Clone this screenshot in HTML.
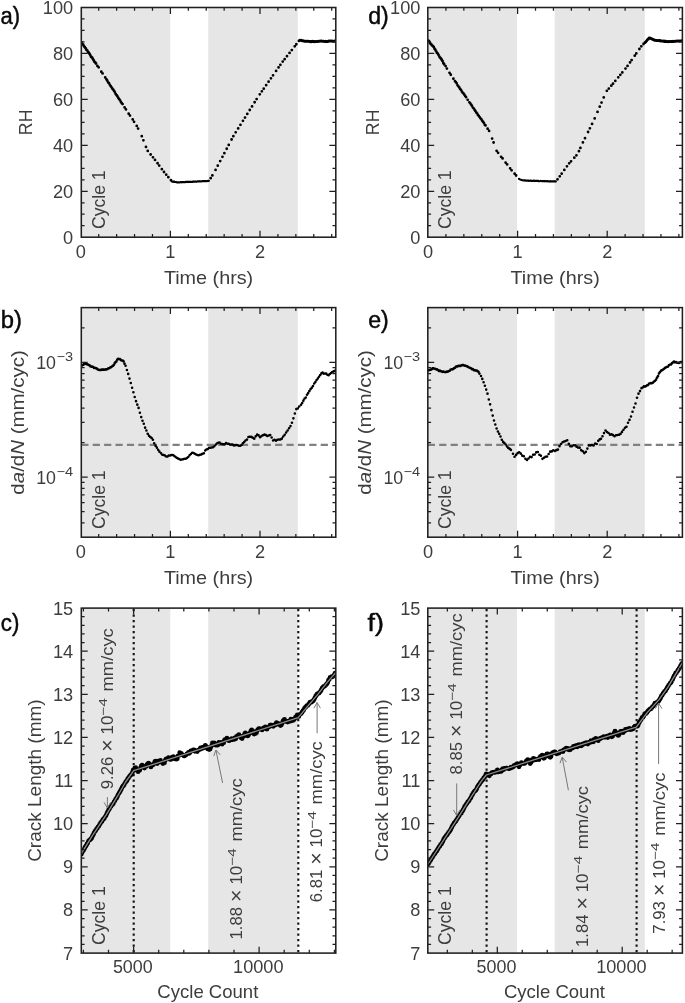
<!DOCTYPE html>
<html lang="en"><head><meta charset="utf-8"><title>Figure</title>
<style>html,body{margin:0;padding:0;background:#fff}svg{display:block;will-change:transform}text{font-family:"Liberation Sans",sans-serif}</style>
</head><body>
<svg width="685" height="1003" viewBox="0 0 685 1003">
<rect width="685" height="1003" fill="#fff"/>
<defs>
<clipPath id="ca"><rect x="81.3" y="7.5" width="254.5" height="229.7"/></clipPath>
<clipPath id="cd"><rect x="427.8" y="7.5" width="254.6" height="229.7"/></clipPath>
<clipPath id="cb"><rect x="81.3" y="307.6" width="254.5" height="229.6"/></clipPath>
<clipPath id="ce"><rect x="427.8" y="307.6" width="254.6" height="229.6"/></clipPath>
<clipPath id="cc"><rect x="81.3" y="608.1" width="254.5" height="345"/></clipPath>
<clipPath id="cf"><rect x="427.8" y="608.1" width="254.6" height="345"/></clipPath>
</defs>
<rect x="81.3" y="7.5" width="89" height="229.7" fill="#e6e6e6"/>
<rect x="208.2" y="7.5" width="89.6" height="229.7" fill="#e6e6e6"/>
<path d="M80.8 41.44h0M81.6 42.45h0M82.4 44.06h0M83.2 44.7h0M84 46.27h0M84.8 47.28h0M85.6 48.16h0M86.4 49.73h0M87.2 50.47h0M88 51.98h0M88.8 52.82h0M89.6 54h0M90.4 55.46h0M91.2 56.98h0M92 57.51h0M92.8 58.76h0M93.6 60.28h0M94.4 61.73h0M95.2 62.56h0M96 63.56h0" stroke="#000" stroke-width="2.9" stroke-linecap="round" fill="none" clip-path="url(#ca)"/>
<path d="M97.4 65.96h0M98.7 67.29h0M101.3 71.77h0M102.6 73.44h0M105.2 77.38h0M106.5 79.38h0" stroke="#000" stroke-width="2.8" stroke-linecap="round" fill="none" clip-path="url(#ca)"/>
<path d="M107.3 80.69h0M108.15 82.41h0M109 83.22h0M109.85 84.85h0M110.7 86.22h0M111.55 87.32h0M112.4 88.77h0M113.25 89.7h0M114.1 91.01h0M114.95 92.45h0M115.8 94.14h0M116.65 95.25h0M117.5 96.48h0M118.35 98h0M119.2 99.17h0M120.05 100.33h0M120.9 102h0M121.75 103.21h0M122.6 104.12h0" stroke="#000" stroke-width="2.8" stroke-linecap="round" fill="none" clip-path="url(#ca)"/>
<path d="M124.6 107.38h0M125.95 109.39h0M128.65 113.66h0M130 115.61h0M132.7 119.41h0M134.05 121.86h0M136.75 125.96h0M138.1 128.61h0" stroke="#000" stroke-width="2.8" stroke-linecap="round" fill="none" clip-path="url(#ca)"/>
<path d="M141.76 136.13h0M143.39 140.35h0M145.97 146.96h0M147.76 150.94h0M150.63 154.49h0M152.96 157.37h0M155.01 159.9h0M157.56 163.27h0M159.23 165.56h0M161.86 169.15h0M163.99 171.99h0M166.22 174.63h0M168.34 177.15h0M170.96 180.26h0" stroke="#000" stroke-width="2.8" stroke-linecap="round" fill="none" clip-path="url(#ca)"/>
<path d="M172 181.59h0M172.8 181.6h0M173.6 181.75h0M174.4 181.73h0M175.2 181.97h0M176 182.07h0M176.8 182.24h0M177.6 182.32h0M178.4 182.32h0M179.2 182.35h0M180 182.37h0M180.8 182.2h0M181.6 182.25h0M182.4 182.15h0M183.2 182.1h0M184 182.05h0M184.8 182.15h0M185.6 181.98h0M186.4 181.97h0M187.2 181.96h0M188 182.01h0M188.8 181.82h0M189.6 181.85h0M190.4 181.83h0M191.2 181.86h0M192 181.81h0M192.8 181.77h0M193.6 181.62h0M194.4 181.61h0M195.2 181.55h0M196 181.62h0M196.8 181.6h0M197.6 181.39h0M198.4 181.36h0M199.2 181.33h0M200 181.29h0M200.8 181.3h0M201.6 181.28h0M202.4 181.18h0M203.2 181.09h0M204 181.13h0M204.8 181.08h0M205.6 181.08h0M206.4 181.12h0M207.2 181.03h0M208 180.95h0M208.8 180.93h0" stroke="#000" stroke-width="2.3" stroke-linecap="round" fill="none" clip-path="url(#ca)"/>
<path d="M210.68 178.18h0M212.38 175.41h0M215.56 169.91h0M217.77 165.72h0M220.19 161.12h0M222.45 156.84h0M224.37 153.19h0M226.71 148.76h0M228.74 144.9h0M231.6 139.48h0M233.36 136.14h0M235.7 132.33h0M238.17 128.4h0M240.45 124.78h0M242.96 120.8h0M245 117.55h0M247.28 113.94h0M249.76 110h0M252.04 106.38h0M254.63 102.26h0M256.63 99.1h0M259.8 94.3h0M261.87 91.33h0M263.74 88.66h0M266.17 85.17h0M268.6 81.69h0M270.94 78.32h0M273.03 75.33h0M276.09 70.95h0M278.56 67.4h0M280.37 64.81h0M282.71 61.61h0M284.65 59.15h0M286.99 56.17h0M289.56 52.9h0M291.81 50.03h0M294.71 46.35h0M296.37 44.23h0" stroke="#000" stroke-width="2.8" stroke-linecap="round" fill="none" clip-path="url(#ca)"/>
<path d="M299 40.65h0M299.8 40.26h0M300.6 40.29h0M301.4 40.34h0M302.2 40.78h0M303 40.76h0M303.8 41.07h0M304.6 41.35h0M305.4 41.34h0M306.2 41.31h0M307 41.15h0M307.8 41.26h0M308.6 41.21h0M309.4 41.57h0M310.2 41.5h0M311 41.63h0M311.8 41.39h0M312.6 41.32h0M313.4 41.6h0M314.2 41.67h0M315 41.59h0M315.8 41.55h0M316.6 41.54h0M317.4 41.48h0M318.2 41.21h0M319 41.34h0M319.8 41.24h0M320.6 41.06h0M321.4 41.05h0M322.2 41.16h0M323 41.13h0M323.8 41.33h0M324.6 41.45h0M325.4 41.18h0M326.2 41.41h0M327 41.42h0M327.8 41.38h0M328.6 41.07h0M329.4 40.99h0M330.2 40.97h0M331 40.94h0M331.8 40.93h0M332.6 41.13h0M333.4 41.25h0M334.2 41.2h0M335 41.01h0M335.8 41.08h0" stroke="#000" stroke-width="3" stroke-linecap="round" fill="none" clip-path="url(#ca)"/>
<path d="M170.4 7.5v6.4 M170.4 237.2v-6.4 M260 7.5v6.4 M260 237.2v-6.4 M98.72 7.5v3.3 M98.72 237.2v-3.3 M116.64 7.5v3.3 M116.64 237.2v-3.3 M134.56 7.5v3.3 M134.56 237.2v-3.3 M152.48 7.5v3.3 M152.48 237.2v-3.3 M188.32 7.5v3.3 M188.32 237.2v-3.3 M206.24 7.5v3.3 M206.24 237.2v-3.3 M224.16 7.5v3.3 M224.16 237.2v-3.3 M242.08 7.5v3.3 M242.08 237.2v-3.3 M277.92 7.5v3.3 M277.92 237.2v-3.3 M295.84 7.5v3.3 M295.84 237.2v-3.3 M313.76 7.5v3.3 M313.76 237.2v-3.3 M331.68 7.5v3.3 M331.68 237.2v-3.3" stroke="#1f1f1f" stroke-width="1.25" fill="none"/>
<path d="M81.3 191.26h6.4 M335.8 191.26h-6.4 M81.3 145.32h6.4 M335.8 145.32h-6.4 M81.3 99.38h6.4 M335.8 99.38h-6.4 M81.3 53.44h6.4 M335.8 53.44h-6.4 M81.3 225.71h3.3 M335.8 225.71h-3.3 M81.3 214.23h3.3 M335.8 214.23h-3.3 M81.3 202.75h3.3 M335.8 202.75h-3.3 M81.3 179.78h3.3 M335.8 179.78h-3.3 M81.3 168.29h3.3 M335.8 168.29h-3.3 M81.3 156.81h3.3 M335.8 156.81h-3.3 M81.3 133.84h3.3 M335.8 133.84h-3.3 M81.3 122.35h3.3 M335.8 122.35h-3.3 M81.3 110.87h3.3 M335.8 110.87h-3.3 M81.3 87.9h3.3 M335.8 87.9h-3.3 M81.3 76.41h3.3 M335.8 76.41h-3.3 M81.3 64.93h3.3 M335.8 64.93h-3.3 M81.3 41.96h3.3 M335.8 41.96h-3.3 M81.3 30.47h3.3 M335.8 30.47h-3.3 M81.3 18.99h3.3 M335.8 18.99h-3.3" stroke="#1f1f1f" stroke-width="1.25" fill="none"/>
<rect x="81.3" y="7.5" width="254.5" height="229.7" fill="none" stroke="#1f1f1f" stroke-width="1.55"/>
<text x="73.2" y="243.7" font-size="18.2" text-anchor="end" fill="#3d3d3d">0</text>
<text x="73.2" y="197.76" font-size="18.2" text-anchor="end" fill="#3d3d3d">20</text>
<text x="73.2" y="151.82" font-size="18.2" text-anchor="end" fill="#3d3d3d">40</text>
<text x="73.2" y="105.88" font-size="18.2" text-anchor="end" fill="#3d3d3d">60</text>
<text x="73.2" y="59.94" font-size="18.2" text-anchor="end" fill="#3d3d3d">80</text>
<text x="73.2" y="14" font-size="18.2" text-anchor="end" fill="#3d3d3d">100</text>
<text x="80.8" y="257.9" font-size="18.2" text-anchor="middle" fill="#3d3d3d">0</text>
<text x="170.4" y="257.9" font-size="18.2" text-anchor="middle" fill="#3d3d3d">1</text>
<text x="260" y="257.9" font-size="18.2" text-anchor="middle" fill="#3d3d3d">2</text>
<text x="208.55" y="283.5" font-size="18.2" text-anchor="middle" fill="#3d3d3d" textLength="89.3" lengthAdjust="spacingAndGlyphs">Time (hrs)</text>
<text x="32" y="122.35" font-size="18.2" text-anchor="middle" fill="#3d3d3d" transform="rotate(-90 32 122.35)" textLength="25.6" lengthAdjust="spacingAndGlyphs">RH</text>
<text x="105.4" y="229" font-size="18.2" text-anchor="start" fill="#3d3d3d" transform="rotate(-90 105.4 229)" textLength="58.6" lengthAdjust="spacingAndGlyphs">Cycle 1</text>
<text x="0.5" y="23.6" font-size="23.5" text-anchor="start" fill="#0a0a0a" textLength="19.6" lengthAdjust="spacingAndGlyphs" stroke="#0a0a0a" stroke-width="0.45">a)</text>
<rect x="427.8" y="7.5" width="89.2" height="229.7" fill="#e6e6e6"/>
<rect x="554.7" y="7.5" width="90.1" height="229.7" fill="#e6e6e6"/>
<path d="M428.1 40.67h0M428.9 40.98h0M429.7 42.45h0M430.5 43.63h0M431.3 44.47h0M432.1 45.39h0M432.9 46.1h0M433.7 46.95h0M434.5 48.78h0M435.3 49.66h0M436.1 51.36h0M436.9 52.8h0M437.7 53.56h0M438.5 54.85h0M439.3 56.62h0M440.1 57.7h0M440.9 58.49h0M441.7 59.73h0M442.5 61.03h0M443.3 62.99h0M444.1 64.19h0" stroke="#000" stroke-width="2.9" stroke-linecap="round" fill="none" clip-path="url(#cd)"/>
<path d="M445.6 66.1h0M446.9 68.6h0M449.5 72.86h0M450.8 74.75h0M453.4 78.73h0" stroke="#000" stroke-width="2.8" stroke-linecap="round" fill="none" clip-path="url(#cd)"/>
<path d="M455 81.24h0M455.85 82.15h0M456.7 83.3h0M457.55 85.31h0M458.4 86.3h0M459.25 87.45h0M460.1 89.02h0M460.95 89.86h0M461.8 91.46h0M462.65 92.66h0M463.5 93.42h0M464.35 94.69h0M465.2 95.97h0M466.05 97.17h0" stroke="#000" stroke-width="2.8" stroke-linecap="round" fill="none" clip-path="url(#cd)"/>
<path d="M467.7 99.8h0" stroke="#000" stroke-width="2.8" stroke-linecap="round" fill="none" clip-path="url(#cd)"/>
<path d="M469.4 102.35h0M470.25 103.32h0M471.1 104.68h0M471.95 105.68h0M472.8 107.53h0M473.65 108.32h0M474.5 109.63h0M475.35 110.97h0M476.2 112.45h0M477.05 113.3h0M477.9 114.93h0M478.75 115.83h0M479.6 117.08h0M480.45 118.31h0M481.3 119.13h0M482.15 120.7h0M483 121.73h0M483.85 122.82h0M484.7 124.69h0M485.55 125.42h0" stroke="#000" stroke-width="2.8" stroke-linecap="round" fill="none" clip-path="url(#cd)"/>
<path d="M487.6 128.63h0M489.1 130.96h0M492.1 138.54h0M493.6 142.5h0M496.6 150.81h0M498.1 152.8h0M501.1 156.86h0M502.6 158.41h0M505.6 162.61h0M507.1 164.39h0M510.1 168.3h0M511.6 170.36h0M514.6 173.72h0M516.1 175.52h0" stroke="#000" stroke-width="2.8" stroke-linecap="round" fill="none" clip-path="url(#cd)"/>
<path d="M519 178.93h0M519.8 179.37h0M520.6 179.61h0M521.4 179.97h0M522.2 180.22h0M523 180.3h0M523.8 180.41h0M524.6 180.43h0M525.4 180.52h0M526.2 180.59h0M527 180.71h0M527.8 180.69h0M528.6 180.75h0M529.4 180.78h0M530.2 180.67h0M531 180.75h0M531.8 180.86h0M532.6 180.86h0M533.4 180.74h0M534.2 180.76h0M535 180.85h0M535.8 180.8h0M536.6 180.86h0M537.4 180.85h0M538.2 181h0M539 181.04h0M539.8 181.09h0M540.6 180.97h0M541.4 181.1h0M542.2 181.12h0M543 181.04h0M543.8 181.21h0M544.6 181.25h0M545.4 181.12h0M546.2 181.3h0M547 181.21h0M547.8 181.25h0M548.6 181.38h0M549.4 181.37h0M550.2 181.26h0M551 181.34h0M551.8 181.38h0M552.6 181.37h0M553.4 181.36h0M554.2 181.41h0M555 181.52h0M555.8 181.4h0" stroke="#000" stroke-width="2.3" stroke-linecap="round" fill="none" clip-path="url(#cd)"/>
<path d="M557.55 179.31h0M559.77 176.32h0M561.68 173.65h0M564.32 169.95h0M566.94 166.28h0M569.16 163.37h0M571.04 161.28h0M574.3 157.68h0M576.43 155.31h0M578.94 151.15h0M580.4 147.91h0M582.9 142.41h0M585 138.18h0M588.07 132.01h0M589.89 128.36h0M592.08 123.96h0M594.7 118.47h0M597.52 111.91h0M599.76 106.71h0M601.53 102.59h0M603.75 97.43h0M606.85 90.86h0M608.83 88.55h0M611.29 85.69h0M613.01 83.66h0M615.31 80.89h0M618.27 77.31h0M620.34 74.81h0M622.31 72.42h0M625.51 68.56h0M627.53 65.95h0M630.03 62.39h0M631.64 60.09h0M634.75 55.66h0M636.29 53.47h0M639.41 49.01h0M641.33 46.35h0M643.55 44h0" stroke="#000" stroke-width="2.8" stroke-linecap="round" fill="none" clip-path="url(#cd)"/>
<path d="M645 42.49h0M645.8 41.82h0M646.6 40.64h0M647.4 39.73h0M648.2 39.08h0M649 38.08h0M649.8 38.04h0M650.6 38.37h0M651.4 38.63h0M652.2 39.01h0M653 39.38h0M653.8 39.68h0M654.6 40.22h0M655.4 40.29h0M656.2 40.47h0M657 40.38h0M657.8 40.54h0M658.6 40.45h0M659.4 40.64h0M660.2 40.59h0M661 41.02h0M661.8 41h0M662.6 40.89h0M663.4 41.11h0M664.2 41.41h0M665 41.07h0M665.8 41.5h0M666.6 41.38h0M667.4 41.48h0M668.2 41.65h0M669 41.4h0M669.8 41.43h0M670.6 41.49h0M671.4 41.61h0M672.2 41.27h0M673 41.48h0M673.8 41.39h0M674.6 41.33h0M675.4 41.19h0M676.2 41.13h0M677 40.96h0M677.8 40.97h0M678.6 40.91h0M679.4 41.22h0M680.2 40.95h0M681 40.88h0M681.8 40.81h0" stroke="#000" stroke-width="3" stroke-linecap="round" fill="none" clip-path="url(#cd)"/>
<path d="M517.6 7.5v6.4 M517.6 237.2v-6.4 M607.2 7.5v6.4 M607.2 237.2v-6.4 M445.92 7.5v3.3 M445.92 237.2v-3.3 M463.84 7.5v3.3 M463.84 237.2v-3.3 M481.76 7.5v3.3 M481.76 237.2v-3.3 M499.68 7.5v3.3 M499.68 237.2v-3.3 M535.52 7.5v3.3 M535.52 237.2v-3.3 M553.44 7.5v3.3 M553.44 237.2v-3.3 M571.36 7.5v3.3 M571.36 237.2v-3.3 M589.28 7.5v3.3 M589.28 237.2v-3.3 M625.12 7.5v3.3 M625.12 237.2v-3.3 M643.04 7.5v3.3 M643.04 237.2v-3.3 M660.96 7.5v3.3 M660.96 237.2v-3.3 M678.88 7.5v3.3 M678.88 237.2v-3.3" stroke="#1f1f1f" stroke-width="1.25" fill="none"/>
<path d="M427.8 191.26h6.4 M682.4 191.26h-6.4 M427.8 145.32h6.4 M682.4 145.32h-6.4 M427.8 99.38h6.4 M682.4 99.38h-6.4 M427.8 53.44h6.4 M682.4 53.44h-6.4 M427.8 225.71h3.3 M682.4 225.71h-3.3 M427.8 214.23h3.3 M682.4 214.23h-3.3 M427.8 202.75h3.3 M682.4 202.75h-3.3 M427.8 179.78h3.3 M682.4 179.78h-3.3 M427.8 168.29h3.3 M682.4 168.29h-3.3 M427.8 156.81h3.3 M682.4 156.81h-3.3 M427.8 133.84h3.3 M682.4 133.84h-3.3 M427.8 122.35h3.3 M682.4 122.35h-3.3 M427.8 110.87h3.3 M682.4 110.87h-3.3 M427.8 87.9h3.3 M682.4 87.9h-3.3 M427.8 76.41h3.3 M682.4 76.41h-3.3 M427.8 64.93h3.3 M682.4 64.93h-3.3 M427.8 41.96h3.3 M682.4 41.96h-3.3 M427.8 30.47h3.3 M682.4 30.47h-3.3 M427.8 18.99h3.3 M682.4 18.99h-3.3" stroke="#1f1f1f" stroke-width="1.25" fill="none"/>
<rect x="427.8" y="7.5" width="254.6" height="229.7" fill="none" stroke="#1f1f1f" stroke-width="1.55"/>
<text x="420.4" y="243.7" font-size="18.2" text-anchor="end" fill="#3d3d3d">0</text>
<text x="420.4" y="197.76" font-size="18.2" text-anchor="end" fill="#3d3d3d">20</text>
<text x="420.4" y="151.82" font-size="18.2" text-anchor="end" fill="#3d3d3d">40</text>
<text x="420.4" y="105.88" font-size="18.2" text-anchor="end" fill="#3d3d3d">60</text>
<text x="420.4" y="59.94" font-size="18.2" text-anchor="end" fill="#3d3d3d">80</text>
<text x="420.4" y="14" font-size="18.2" text-anchor="end" fill="#3d3d3d">100</text>
<text x="428" y="257.9" font-size="18.2" text-anchor="middle" fill="#3d3d3d">0</text>
<text x="517.6" y="257.9" font-size="18.2" text-anchor="middle" fill="#3d3d3d">1</text>
<text x="607.2" y="257.9" font-size="18.2" text-anchor="middle" fill="#3d3d3d">2</text>
<text x="555.1" y="283.5" font-size="18.2" text-anchor="middle" fill="#3d3d3d" textLength="89.3" lengthAdjust="spacingAndGlyphs">Time (hrs)</text>
<text x="379.2" y="122.35" font-size="18.2" text-anchor="middle" fill="#3d3d3d" transform="rotate(-90 379.2 122.35)" textLength="25.6" lengthAdjust="spacingAndGlyphs">RH</text>
<text x="451.2" y="229" font-size="18.2" text-anchor="start" fill="#3d3d3d" transform="rotate(-90 451.2 229)" textLength="58.6" lengthAdjust="spacingAndGlyphs">Cycle 1</text>
<text x="368.2" y="23.6" font-size="23.5" text-anchor="start" fill="#0a0a0a" textLength="20.6" lengthAdjust="spacingAndGlyphs" stroke="#0a0a0a" stroke-width="0.45">d)</text>
<rect x="81.3" y="307.6" width="89" height="229.6" fill="#e6e6e6"/>
<rect x="208.2" y="307.6" width="89.6" height="229.6" fill="#e6e6e6"/>
<path d="M81.3 444.9H335.8" stroke="#808080" stroke-width="2.2" stroke-dasharray="7.2 4.2" fill="none"/>
<path d="M81.3 365.68h0M82.2 365.34h0M83.1 364.83h0M84 364.16h0M84.9 363.77h0M85.8 363.62h0M86.7 364.15h0M87.6 364.3h0M88.5 364.93h0M89.4 365.18h0M90.3 366.13h0M91.2 366.54h0M92.1 366.59h0M93 366.8h0M93.9 367.84h0M94.8 367.77h0M95.7 368.26h0M96.6 368.43h0M97.5 369.19h0M98.4 369.73h0M99.3 369.99h0M100.2 369.73h0M101.1 369.95h0M102 369.52h0M102.9 369.71h0M103.8 369.54h0M104.7 369.77h0M105.6 369.46h0M106.5 369.42h0M107.4 369.07h0M108.3 368.44h0M109.2 368.15h0M110.1 367.53h0M111 367.14h0M111.9 366.49h0M112.8 365.96h0M113.7 365.08h0M114.6 363.45h0M115.5 362.17h0M116.4 361.46h0M117.3 359.55h0M118.2 358.78h0M119.1 359.11h0M120 359.02h0M120.9 360.04h0M121.8 360.48h0M122.7 360.65h0M123.6 361.33h0M124.5 363.63h0" stroke="#000" stroke-width="2.7" stroke-linecap="round" fill="none" clip-path="url(#cb)"/>
<path d="M125.6 365.74h0M126.9 369.97h0M128.2 373.9h0M129.5 378.61h0M130.8 382.99h0M132.1 387.72h0M133.4 392.28h0M134.7 397.01h0M136 401.15h0M137.3 404.65h0M138.6 407.9h0M139.9 412.73h0M141.2 417.11h0M142.5 420.74h0M143.8 423.82h0M145.1 427.64h0M146.4 430.5h0M147.7 433.79h0M149 435.74h0M150.3 436.96h0M151.6 437.93h0M152.9 439.7h0M154.2 443.23h0M155.5 445.66h0M156.8 447.59h0M158.1 449.7h0M159.4 451.66h0" stroke="#000" stroke-width="2.6" stroke-linecap="round" fill="none" clip-path="url(#cb)"/>
<path d="M161 453.37h0M162.3 454.76h0M163.6 455.02h0M164.9 455.56h0M166.2 456.44h0M167.5 456.42h0M168.8 455.43h0M170.1 455.38h0M171.4 455.07h0M172.7 454.89h0M174 455.7h0M175.3 456.7h0M176.6 457.8h0M177.9 458.55h0M179.2 459.08h0M180.5 459.77h0M181.8 459.58h0M183.1 459.19h0M184.4 458.83h0M185.7 458.81h0M187 457.96h0M188.3 456.96h0M189.6 455.16h0M190.9 453.9h0M192.2 452.79h0M193.5 452.99h0M194.8 453.82h0M196.1 454.62h0M197.4 455.09h0M198.7 455.13h0M200 454.74h0M201.3 454.4h0M202.6 453.74h0M203.9 453.27h0M205.2 450.51h0M206.5 449.58h0M207.8 449.07h0M209.1 447.77h0M210.4 447.69h0M211.7 447.54h0M213 447.2h0M214.3 446.25h0M215.6 444.79h0M216.9 443.44h0M218.2 442.8h0M219.5 442.58h0M220.8 443.68h0M222.1 444.04h0M223.4 444.31h0M224.7 444.26h0M226 443.07h0M227.3 443.67h0M228.6 443.73h0M229.9 444.4h0M231.2 444.58h0M232.5 444.49h0M233.8 445.42h0M235.1 445.33h0M236.4 445.04h0M237.7 445.14h0M239 445.71h0M240.3 445.8h0M241.6 444.93h0M242.9 443.3h0M244.2 442.01h0M245.5 440.5h0" stroke="#000" stroke-width="2.5" stroke-linecap="round" fill="none" clip-path="url(#cb)"/>
<path d="M247 439.62h0M248.45 437.06h0M249.9 436.72h0M251.35 436.89h0M252.8 437.69h0M254.25 438.66h0M255.7 436.37h0M257.15 434.63h0M258.6 435.38h0M260.05 437.22h0M261.5 436.12h0M262.95 435.24h0M264.4 434.65h0M265.85 435.09h0M267.3 435.95h0M268.75 435.57h0M270.2 435.02h0M271.65 437.51h0M273.1 440.57h0M274.55 439.8h0M276 440.71h0M277.45 439.75h0M278.9 439.48h0M280.35 439.47h0M281.8 438.67h0M283.25 436.47h0M284.7 434.82h0M286.15 432.52h0M287.6 430.45h0M289.05 428.24h0M290.5 426.09h0M291.95 422.76h0M293.4 418.35h0M294.85 413.46h0M296.3 409.11h0M297.75 408.48h0M299.2 406.51h0" stroke="#000" stroke-width="2.6" stroke-linecap="round" fill="none" clip-path="url(#cb)"/>
<path d="M301 404.87h0M302.2 402.94h0M303.4 400.65h0M304.6 398.48h0M305.8 397.43h0M307 394.7h0M308.2 393.12h0M309.4 391.06h0M310.6 389.08h0M311.8 387.64h0M313 386.06h0M314.2 383.54h0M315.4 382.12h0M316.6 379.96h0M317.8 378.47h0M319 376.75h0M320.2 374.96h0M321.4 373.4h0M322.6 372.53h0M323.8 373.59h0M325 373.55h0M326.2 373.63h0M327.4 374.68h0M328.6 375.14h0M329.8 374.04h0M331 372.99h0M332.2 372.3h0M333.4 371.47h0M334.6 370.98h0M335.8 369.99h0" stroke="#000" stroke-width="2.6" stroke-linecap="round" fill="none" clip-path="url(#cb)"/>
<path d="M170.4 307.6v6.4 M170.4 537.2v-6.4 M260 307.6v6.4 M260 537.2v-6.4 M98.72 307.6v3.3 M98.72 537.2v-3.3 M116.64 307.6v3.3 M116.64 537.2v-3.3 M134.56 307.6v3.3 M134.56 537.2v-3.3 M152.48 307.6v3.3 M152.48 537.2v-3.3 M188.32 307.6v3.3 M188.32 537.2v-3.3 M206.24 307.6v3.3 M206.24 537.2v-3.3 M224.16 307.6v3.3 M224.16 537.2v-3.3 M242.08 307.6v3.3 M242.08 537.2v-3.3 M277.92 307.6v3.3 M277.92 537.2v-3.3 M295.84 307.6v3.3 M295.84 537.2v-3.3 M313.76 307.6v3.3 M313.76 537.2v-3.3 M331.68 307.6v3.3 M331.68 537.2v-3.3" stroke="#1f1f1f" stroke-width="1.25" fill="none"/>
<path d="M81.3 362.37h6.4 M335.8 362.37h-6.4 M81.3 477.17h6.4 M335.8 477.17h-6.4 M81.3 327.82h3.3 M335.8 327.82h-3.3 M81.3 442.62h3.3 M335.8 442.62h-3.3 M81.3 422.4h3.3 M335.8 422.4h-3.3 M81.3 408.06h3.3 M335.8 408.06h-3.3 M81.3 396.93h3.3 M335.8 396.93h-3.3 M81.3 387.84h3.3 M335.8 387.84h-3.3 M81.3 380.16h3.3 M335.8 380.16h-3.3 M81.3 373.5h3.3 M335.8 373.5h-3.3 M81.3 367.63h3.3 M335.8 367.63h-3.3 M81.3 522.86h3.3 M335.8 522.86h-3.3 M81.3 511.73h3.3 M335.8 511.73h-3.3 M81.3 502.64h3.3 M335.8 502.64h-3.3 M81.3 494.96h3.3 M335.8 494.96h-3.3 M81.3 488.3h3.3 M335.8 488.3h-3.3 M81.3 482.43h3.3 M335.8 482.43h-3.3" stroke="#1f1f1f" stroke-width="1.25" fill="none"/>
<rect x="81.3" y="307.6" width="254.5" height="229.6" fill="none" stroke="#1f1f1f" stroke-width="1.55"/>
<text x="36.2" y="368.97" font-size="18.2" fill="#3d3d3d" text-anchor="start" textLength="19.8" lengthAdjust="spacingAndGlyphs">10</text>
<text x="56.4" y="360.97" font-size="12.6" fill="#3d3d3d" text-anchor="start" textLength="16.6" lengthAdjust="spacingAndGlyphs">−3</text>
<text x="36.2" y="483.77" font-size="18.2" fill="#3d3d3d" text-anchor="start" textLength="19.8" lengthAdjust="spacingAndGlyphs">10</text>
<text x="56.4" y="475.77" font-size="12.6" fill="#3d3d3d" text-anchor="start" textLength="16.6" lengthAdjust="spacingAndGlyphs">−4</text>
<text x="80.8" y="557.9" font-size="18.2" text-anchor="middle" fill="#3d3d3d">0</text>
<text x="170.4" y="557.9" font-size="18.2" text-anchor="middle" fill="#3d3d3d">1</text>
<text x="260" y="557.9" font-size="18.2" text-anchor="middle" fill="#3d3d3d">2</text>
<text x="208.55" y="583.5" font-size="18.2" text-anchor="middle" fill="#3d3d3d" textLength="89.3" lengthAdjust="spacingAndGlyphs">Time (hrs)</text>
<text x="24.3" y="422.4" font-size="18.2" fill="#3d3d3d" text-anchor="middle" transform="rotate(-90 24.3 422.4)" textLength="144.5" lengthAdjust="spacingAndGlyphs">d<tspan font-style="italic">a</tspan>/d<tspan font-style="italic">N</tspan> (mm/cyc)</text>
<text x="105.4" y="529" font-size="18.2" text-anchor="start" fill="#3d3d3d" transform="rotate(-90 105.4 529)" textLength="58.6" lengthAdjust="spacingAndGlyphs">Cycle 1</text>
<text x="0.8" y="327.8" font-size="23.5" text-anchor="start" fill="#0a0a0a" textLength="21.2" lengthAdjust="spacingAndGlyphs" stroke="#0a0a0a" stroke-width="0.45">b)</text>
<rect x="427.8" y="307.6" width="89.2" height="229.6" fill="#e6e6e6"/>
<rect x="554.7" y="307.6" width="90.1" height="229.6" fill="#e6e6e6"/>
<path d="M427.8 444.9H682.4" stroke="#808080" stroke-width="2.2" stroke-dasharray="7.2 4.2" fill="none"/>
<path d="M428.1 370.49h0M429 370.07h0M429.9 369.87h0M430.8 369.69h0M431.7 369.14h0M432.6 368.42h0M433.5 368.25h0M434.4 368.71h0M435.3 368.96h0M436.2 369.3h0M437.1 369.45h0M438 369.99h0M438.9 370.91h0M439.8 370.53h0M440.7 371.07h0M441.6 371.41h0M442.5 371.83h0M443.4 371.55h0M444.3 371.83h0M445.2 372.05h0M446.1 371.91h0M447 371.56h0M447.9 371.57h0M448.8 371.1h0M449.7 370.73h0M450.6 369.65h0M451.5 369.27h0M452.4 369.31h0M453.3 368.93h0M454.2 368.08h0M455.1 367.65h0M456 366.66h0M456.9 366.45h0M457.8 366.36h0M458.7 365.76h0M459.6 365.78h0M460.5 365.88h0M461.4 365.3h0M462.3 365.19h0M463.2 365.22h0M464.1 365.52h0M465 365.65h0M465.9 365.85h0M466.8 366.19h0M467.7 366.65h0M468.6 367.26h0M469.5 367.53h0M470.4 368.12h0M471.3 368.23h0M472.2 369.31h0M473.1 369.24h0M474 370.17h0M474.9 370.32h0M475.8 370.42h0M476.7 370.65h0M477.6 371.13h0M478.5 371.81h0M479.4 373.56h0" stroke="#000" stroke-width="2.7" stroke-linecap="round" fill="none" clip-path="url(#ce)"/>
<path d="M481 376.03h0M482.3 378.89h0M483.6 382.32h0M484.9 385.82h0M486.2 389.61h0M487.5 393.66h0M488.8 399.48h0M490.1 404.34h0M491.4 410.15h0M492.7 415.58h0M494 420.51h0M495.3 424.51h0M496.6 428.44h0M497.9 431.48h0M499.2 433.83h0M500.5 436.46h0M501.8 439.82h0M503.1 441.91h0M504.4 443.17h0M505.7 444.55h0M507 446.57h0M508.3 447.92h0M509.6 448.84h0M510.9 449.92h0" stroke="#000" stroke-width="2.6" stroke-linecap="round" fill="none" clip-path="url(#ce)"/>
<path d="M513 453.79h0M514.55 456.71h0M516.1 454.91h0M517.65 453.16h0M519.2 452.29h0M520.75 453.61h0M522.3 455.63h0M523.85 456.27h0M525.4 458.81h0M526.95 459.93h0M528.5 458.44h0M530.05 456.83h0M531.6 457.12h0M533.15 454.8h0M534.7 454.57h0M536.25 452.36h0M537.8 451.98h0M539.35 454.8h0M540.9 455.82h0M542.45 458.85h0M544 457.71h0M545.55 456.76h0M547.1 456.43h0M548.65 454.06h0M550.2 451.63h0M551.75 451.41h0M553.3 450.27h0M554.85 451.02h0M556.4 450.14h0M557.95 449.58h0M559.5 446.16h0M561.05 444.07h0M562.6 442.23h0M564.15 441.48h0M565.7 441.04h0M567.25 440.18h0M568.8 443.91h0M570.35 446.27h0M571.9 446.28h0M573.45 445.32h0M575 445.19h0M576.55 446.67h0M578.1 447.58h0M579.65 447.66h0M581.2 450.17h0M582.75 451.28h0M584.3 453.08h0M585.85 451.87h0M587.4 448.59h0M588.95 445.39h0M590.5 445.35h0M592.05 444.94h0M593.6 445.49h0M595.15 443.45h0M596.7 443.97h0M598.25 440.87h0M599.8 439.41h0" stroke="#000" stroke-width="2.6" stroke-linecap="round" fill="none" clip-path="url(#ce)"/>
<path d="M601 438.71h0M602.5 436.2h0M604 433.1h0M605.5 430.5h0M607 432.03h0M608.5 432.94h0M610 434.63h0M611.5 434.4h0M613 435.1h0M614.5 436.24h0M616 435.28h0M617.5 434.98h0M619 434.7h0M620.5 433.88h0M622 431.89h0M623.5 429.81h0M625 427.77h0M626.5 426.72h0M628 422.75h0M629.5 419.89h0M631 416.53h0M632.5 411.72h0M634 407.51h0M635.5 403.43h0M637 397.75h0M638.5 393.66h0M640 391.12h0M641.5 388.14h0" stroke="#000" stroke-width="2.6" stroke-linecap="round" fill="none" clip-path="url(#ce)"/>
<path d="M643 387.25h0M644 386.39h0M645 386.55h0M646 386.12h0M647 385.25h0M648 385.04h0M649 383.62h0M650 383.33h0M651 383.08h0M652 383.06h0M653 382.55h0M654 381.49h0M655 380.85h0M656 379.63h0M657 377.69h0M658 376.13h0M659 373.38h0M660 372h0M661 370.65h0M662 370.16h0M663 369.53h0M664 368.79h0M665 367.93h0M666 367.34h0M667 366.81h0M668 366.59h0M669 365.16h0M670 364.56h0M671 364.39h0M672 363.15h0M673 362.25h0M674 361.65h0M675 362.22h0M676 362.05h0M677 362.77h0M678 362.73h0M679 362.89h0M680 362.23h0M681 362.1h0M682 362.17h0" stroke="#000" stroke-width="2.7" stroke-linecap="round" fill="none" clip-path="url(#ce)"/>
<path d="M517.6 307.6v6.4 M517.6 537.2v-6.4 M607.2 307.6v6.4 M607.2 537.2v-6.4 M445.92 307.6v3.3 M445.92 537.2v-3.3 M463.84 307.6v3.3 M463.84 537.2v-3.3 M481.76 307.6v3.3 M481.76 537.2v-3.3 M499.68 307.6v3.3 M499.68 537.2v-3.3 M535.52 307.6v3.3 M535.52 537.2v-3.3 M553.44 307.6v3.3 M553.44 537.2v-3.3 M571.36 307.6v3.3 M571.36 537.2v-3.3 M589.28 307.6v3.3 M589.28 537.2v-3.3 M625.12 307.6v3.3 M625.12 537.2v-3.3 M643.04 307.6v3.3 M643.04 537.2v-3.3 M660.96 307.6v3.3 M660.96 537.2v-3.3 M678.88 307.6v3.3 M678.88 537.2v-3.3" stroke="#1f1f1f" stroke-width="1.25" fill="none"/>
<path d="M427.8 362.37h6.4 M682.4 362.37h-6.4 M427.8 477.17h6.4 M682.4 477.17h-6.4 M427.8 327.82h3.3 M682.4 327.82h-3.3 M427.8 442.62h3.3 M682.4 442.62h-3.3 M427.8 422.4h3.3 M682.4 422.4h-3.3 M427.8 408.06h3.3 M682.4 408.06h-3.3 M427.8 396.93h3.3 M682.4 396.93h-3.3 M427.8 387.84h3.3 M682.4 387.84h-3.3 M427.8 380.16h3.3 M682.4 380.16h-3.3 M427.8 373.5h3.3 M682.4 373.5h-3.3 M427.8 367.63h3.3 M682.4 367.63h-3.3 M427.8 522.86h3.3 M682.4 522.86h-3.3 M427.8 511.73h3.3 M682.4 511.73h-3.3 M427.8 502.64h3.3 M682.4 502.64h-3.3 M427.8 494.96h3.3 M682.4 494.96h-3.3 M427.8 488.3h3.3 M682.4 488.3h-3.3 M427.8 482.43h3.3 M682.4 482.43h-3.3" stroke="#1f1f1f" stroke-width="1.25" fill="none"/>
<rect x="427.8" y="307.6" width="254.6" height="229.6" fill="none" stroke="#1f1f1f" stroke-width="1.55"/>
<text x="383.4" y="368.97" font-size="18.2" fill="#3d3d3d" text-anchor="start" textLength="19.8" lengthAdjust="spacingAndGlyphs">10</text>
<text x="403.6" y="360.97" font-size="12.6" fill="#3d3d3d" text-anchor="start" textLength="16.6" lengthAdjust="spacingAndGlyphs">−3</text>
<text x="383.4" y="483.77" font-size="18.2" fill="#3d3d3d" text-anchor="start" textLength="19.8" lengthAdjust="spacingAndGlyphs">10</text>
<text x="403.6" y="475.77" font-size="12.6" fill="#3d3d3d" text-anchor="start" textLength="16.6" lengthAdjust="spacingAndGlyphs">−4</text>
<text x="428" y="557.9" font-size="18.2" text-anchor="middle" fill="#3d3d3d">0</text>
<text x="517.6" y="557.9" font-size="18.2" text-anchor="middle" fill="#3d3d3d">1</text>
<text x="607.2" y="557.9" font-size="18.2" text-anchor="middle" fill="#3d3d3d">2</text>
<text x="555.1" y="583.5" font-size="18.2" text-anchor="middle" fill="#3d3d3d" textLength="89.3" lengthAdjust="spacingAndGlyphs">Time (hrs)</text>
<text x="371.5" y="422.4" font-size="18.2" fill="#3d3d3d" text-anchor="middle" transform="rotate(-90 371.5 422.4)" textLength="144.5" lengthAdjust="spacingAndGlyphs">d<tspan font-style="italic">a</tspan>/d<tspan font-style="italic">N</tspan> (mm/cyc)</text>
<text x="451.2" y="529" font-size="18.2" text-anchor="start" fill="#3d3d3d" transform="rotate(-90 451.2 529)" textLength="58.6" lengthAdjust="spacingAndGlyphs">Cycle 1</text>
<text x="368.2" y="327.8" font-size="23.5" text-anchor="start" fill="#0a0a0a" textLength="20.6" lengthAdjust="spacingAndGlyphs" stroke="#0a0a0a" stroke-width="0.45">e)</text>
<rect x="81.3" y="608.1" width="89" height="345" fill="#e6e6e6"/>
<rect x="208.2" y="608.1" width="89.6" height="345" fill="#e6e6e6"/>
<path d="M133.7 609.1V953.1" stroke="#111" stroke-width="2.1" stroke-dasharray="2.1 3.4" fill="none"/>
<path d="M298.3 609.1V953.1" stroke="#111" stroke-width="2.1" stroke-dasharray="2.1 3.4" fill="none"/>
<path d="M81.3 854.14h0M82.1 852.44h0M82.9 851.02h0M83.7 850.07h0M84.5 848.41h0M85.3 846.87h0M86.1 845.86h0M86.9 844.25h0M87.7 843.04h0M88.5 841.11h0M89.3 840.32h0M90.1 839.7h0M90.9 838.89h0M91.7 837.96h0M92.5 836.06h0M93.3 834.76h0M94.1 832.99h0M94.9 831.43h0M95.7 830.54h0M96.5 829.04h0M97.3 828.24h0M98.1 826.82h0M98.9 826.08h0M99.7 824.55h0M100.5 823.12h0M101.3 822.22h0M102.1 821.18h0M102.9 819.54h0M103.7 818.95h0M104.5 817.97h0M105.3 816.53h0M106.1 815.28h0M106.9 813.51h0M107.7 811.85h0M108.5 810.26h0M109.3 809.05h0M110.1 807.85h0M110.9 806.45h0M111.7 805.32h0M112.5 804.51h0M113.3 803.61h0M114.1 801.97h0M114.9 800.68h0M115.7 799.17h0M116.5 798.19h0M117.3 796.64h0M118.1 794.87h0M118.9 793.43h0M119.7 792.13h0M120.5 790.7h0M121.3 789.26h0M122.1 787.45h0M122.9 786.21h0M123.7 785.41h0M124.5 784.04h0M125.3 782.71h0M126.1 781.52h0M126.9 780.74h0M127.7 778.99h0M128.5 777.92h0M129.3 776.63h0M130.1 775.64h0M130.9 774.95h0M131.7 773.93h0M132.5 772.19h0M133.3 769.82h0M134.1 769.45h0M134.9 767.87h0M135.7 767.67h0M136.5 770.29h0M137.3 770.31h0M138.1 771.65h0M138.9 770.52h0M139.7 770.31h0M140.5 767.89h0M141.3 765.95h0M142.1 765.03h0M142.9 766.29h0M143.7 767.1h0M144.5 768.1h0M145.3 766.28h0M146.1 766.46h0M146.9 764.72h0M147.7 764.02h0M148.5 763.08h0M149.3 763.92h0M150.1 765.36h0M150.9 766.91h0M151.7 765.26h0M152.5 765.18h0M153.3 764.48h0M154.1 763.58h0M154.9 761.38h0M155.7 761.24h0M156.5 763.24h0M157.3 763.54h0M158.1 762.32h0M158.9 760.81h0M159.7 761.84h0M160.5 760.49h0M161.3 761.91h0M162.1 762.23h0M162.9 763.48h0M163.7 762.35h0M164.5 762.85h0M165.3 760.22h0M166.1 758.91h0M166.9 758.64h0M167.7 758.37h0M168.5 757.64h0M169.3 758.56h0M170.1 759.42h0M170.9 759.44h0M171.7 758.32h0M172.5 756.83h0M173.3 756.55h0M174.1 757.73h0M174.9 758.88h0M175.7 757.98h0M176.5 759.22h0M177.3 758.84h0M178.1 755.8h0M178.9 755.54h0M179.7 752.68h0M180.5 753.15h0M181.3 753.52h0M182.1 754.7h0M182.9 755.06h0M183.7 755.79h0M184.5 755.97h0M185.3 755.05h0M186.1 754.8h0M186.9 753.84h0M187.7 753.52h0M188.5 752.46h0M189.3 753.24h0M190.1 752.26h0M190.9 750.81h0M191.7 751h0M192.5 750.54h0M193.3 749.98h0M194.1 749.99h0M194.9 751.34h0M195.7 751.17h0M196.5 751.32h0M197.3 751.5h0M198.1 750.04h0M198.9 749.89h0M199.7 749.33h0M200.5 747.95h0M201.3 748.85h0M202.1 747.41h0M202.9 748.22h0M203.7 747.67h0M204.5 746.54h0M205.3 745.32h0M206.1 746.42h0M206.9 746.85h0M207.7 748.9h0M208.5 747.96h0M209.3 749.48h0M210.1 749.02h0M210.9 747.06h0M211.7 745.52h0M212.5 742.86h0M213.3 743.72h0M214.1 742.84h0M214.9 744.45h0M215.7 745.14h0M216.5 744.06h0M217.3 745.15h0M218.1 744.82h0M218.9 742.38h0M219.7 742.53h0M220.5 743.38h0M221.3 742.52h0M222.1 744.22h0M222.9 742.69h0M223.7 742.84h0M224.5 740.12h0M225.3 739.52h0M226.1 739.6h0M226.9 738.25h0M227.7 739.1h0M228.5 740.51h0M229.3 740.71h0M230.1 740.05h0M230.9 739.67h0M231.7 738.75h0M232.5 739.65h0M233.3 738.93h0M234.1 739.46h0M234.9 738h0M235.7 738.77h0M236.5 736.43h0M237.3 736.04h0M238.1 735.36h0M238.9 734.7h0M239.7 736.45h0M240.5 736.98h0M241.3 737.93h0M242.1 738.6h0M242.9 736.11h0M243.7 736.36h0M244.5 734.19h0M245.3 733.02h0M246.1 734.05h0M246.9 733.8h0M247.7 735.95h0M248.5 735.08h0M249.3 733.69h0M250.1 733h0M250.9 731.02h0M251.7 729.97h0M252.5 731.63h0M253.3 731.42h0M254.1 734.07h0M254.9 733.29h0M255.7 733.38h0M256.5 732.63h0M257.3 730.31h0M258.1 729.5h0M258.9 728.66h0M259.7 728.53h0M260.5 729.16h0M261.3 729.51h0M262.1 729.9h0M262.9 728.57h0M263.7 727.85h0M264.5 728.26h0M265.3 727.02h0M266.1 727.86h0M266.9 729.2h0M267.7 727.86h0M268.5 727.09h0M269.3 726.69h0M270.1 725.21h0M270.9 725.23h0M271.7 725.05h0M272.5 726.12h0M273.3 726.3h0M274.1 725.2h0M274.9 725.21h0M275.7 723.93h0M276.5 722.6h0M277.3 724.21h0M278.1 723.46h0M278.9 724.16h0M279.7 724.63h0M280.5 725.56h0M281.3 725.06h0M282.1 723.42h0M282.9 721.24h0M283.7 720.07h0M284.5 719.4h0M285.3 721.11h0M286.1 721.58h0M286.9 721.55h0M287.7 722.05h0M288.5 721.1h0M289.3 721.38h0M290.1 720.42h0M290.9 719.27h0M291.7 720.74h0M292.5 719.28h0M293.3 720.29h0M294.1 719.62h0M294.9 718.38h0M295.7 716.86h0M296.5 717.22h0M297.3 715h0M298.1 715.92h0M298.9 716.38h0M299.7 714.52h0M300.5 714.04h0M301.3 713.43h0M302.1 712.15h0M302.9 711.02h0M303.7 709.97h0M304.5 708.28h0M305.3 707.48h0M306.1 706.64h0M306.9 705.54h0M307.7 705.44h0M308.5 704.4h0M309.3 703.46h0M310.1 702.09h0M310.9 702.4h0M311.7 701.93h0M312.5 701.21h0M313.3 700.76h0M314.1 699.41h0M314.9 697.82h0M315.7 696.25h0M316.5 695.06h0M317.3 693.88h0M318.1 693.4h0M318.9 693.13h0M319.7 692.28h0M320.5 691.35h0M321.3 689.91h0M322.1 688.14h0M322.9 687.29h0M323.7 686.41h0M324.5 686.27h0M325.3 685.59h0M326.1 684.63h0M326.9 683.82h0M327.7 682.59h0M328.5 680.18h0M329.3 679.3h0M330.1 677.4h0M330.9 677.04h0M331.7 676.7h0M332.5 676.82h0M333.3 676.35h0M334.1 675.12h0M334.9 673.47h0M335.7 672.8h0" stroke="#000" stroke-width="4.8" stroke-linecap="round" fill="none" clip-path="url(#cc)"/>
<path d="M80.8 854.4 L92.6 835.4 L106.3 814.6 L117.5 796.2 L125.6 782 L133.7 770.7 L298.2 717.6 L307.8 706.2 L317.4 694.8 L327 682.6 L335.8 672.4" stroke="#8c8c8c" stroke-width="1.3" fill="none" stroke-linejoin="round" clip-path="url(#cc)"/>
<path d="M107.4 797L107.4 808M110.7 802.4L107.4 808L104.1 802.4" stroke="#787878" stroke-width="1.0" fill="none"/>
<path d="M222.6 783L215.9 750M213.78 756.14L215.9 750L220.25 754.83" stroke="#787878" stroke-width="1.0" fill="none"/>
<path d="M317.1 733.2L317.1 702.6M313.8 708.2L317.1 702.6L320.4 708.2" stroke="#787878" stroke-width="1.0" fill="none"/>
<path d="M133.6 608.1v6.4 M133.6 953.1v-6.4 M259.1 608.1v6.4 M259.1 953.1v-6.4 M83.4 608.1v3.3 M83.4 953.1v-3.3 M108.5 608.1v3.3 M108.5 953.1v-3.3 M158.7 608.1v3.3 M158.7 953.1v-3.3 M183.8 608.1v3.3 M183.8 953.1v-3.3 M208.9 608.1v3.3 M208.9 953.1v-3.3 M234 608.1v3.3 M234 953.1v-3.3 M284.2 608.1v3.3 M284.2 953.1v-3.3 M309.3 608.1v3.3 M309.3 953.1v-3.3 M334.4 608.1v3.3 M334.4 953.1v-3.3" stroke="#1f1f1f" stroke-width="1.25" fill="none"/>
<path d="M81.3 909.98h6.4 M335.8 909.98h-6.4 M81.3 866.85h6.4 M335.8 866.85h-6.4 M81.3 823.73h6.4 M335.8 823.73h-6.4 M81.3 780.6h6.4 M335.8 780.6h-6.4 M81.3 737.48h6.4 M335.8 737.48h-6.4 M81.3 694.35h6.4 M335.8 694.35h-6.4 M81.3 651.23h6.4 M335.8 651.23h-6.4 M81.3 944.48h3.3 M335.8 944.48h-3.3 M81.3 935.85h3.3 M335.8 935.85h-3.3 M81.3 927.23h3.3 M335.8 927.23h-3.3 M81.3 918.6h3.3 M335.8 918.6h-3.3 M81.3 901.35h3.3 M335.8 901.35h-3.3 M81.3 892.73h3.3 M335.8 892.73h-3.3 M81.3 884.1h3.3 M335.8 884.1h-3.3 M81.3 875.48h3.3 M335.8 875.48h-3.3 M81.3 858.23h3.3 M335.8 858.23h-3.3 M81.3 849.6h3.3 M335.8 849.6h-3.3 M81.3 840.98h3.3 M335.8 840.98h-3.3 M81.3 832.35h3.3 M335.8 832.35h-3.3 M81.3 815.1h3.3 M335.8 815.1h-3.3 M81.3 806.48h3.3 M335.8 806.48h-3.3 M81.3 797.85h3.3 M335.8 797.85h-3.3 M81.3 789.23h3.3 M335.8 789.23h-3.3 M81.3 771.98h3.3 M335.8 771.98h-3.3 M81.3 763.35h3.3 M335.8 763.35h-3.3 M81.3 754.73h3.3 M335.8 754.73h-3.3 M81.3 746.1h3.3 M335.8 746.1h-3.3 M81.3 728.85h3.3 M335.8 728.85h-3.3 M81.3 720.23h3.3 M335.8 720.23h-3.3 M81.3 711.6h3.3 M335.8 711.6h-3.3 M81.3 702.98h3.3 M335.8 702.98h-3.3 M81.3 685.73h3.3 M335.8 685.73h-3.3 M81.3 677.1h3.3 M335.8 677.1h-3.3 M81.3 668.48h3.3 M335.8 668.48h-3.3 M81.3 659.85h3.3 M335.8 659.85h-3.3 M81.3 642.6h3.3 M335.8 642.6h-3.3 M81.3 633.98h3.3 M335.8 633.98h-3.3 M81.3 625.35h3.3 M335.8 625.35h-3.3 M81.3 616.73h3.3 M335.8 616.73h-3.3" stroke="#1f1f1f" stroke-width="1.25" fill="none"/>
<rect x="81.3" y="608.1" width="254.5" height="345" fill="none" stroke="#1f1f1f" stroke-width="1.55"/>
<text x="73.2" y="959.6" font-size="18.2" text-anchor="end" fill="#3d3d3d">7</text>
<text x="73.2" y="916.48" font-size="18.2" text-anchor="end" fill="#3d3d3d">8</text>
<text x="73.2" y="873.35" font-size="18.2" text-anchor="end" fill="#3d3d3d">9</text>
<text x="73.2" y="830.23" font-size="18.2" text-anchor="end" fill="#3d3d3d">10</text>
<text x="73.2" y="787.1" font-size="18.2" text-anchor="end" fill="#3d3d3d">11</text>
<text x="73.2" y="743.98" font-size="18.2" text-anchor="end" fill="#3d3d3d">12</text>
<text x="73.2" y="700.85" font-size="18.2" text-anchor="end" fill="#3d3d3d">13</text>
<text x="73.2" y="657.73" font-size="18.2" text-anchor="end" fill="#3d3d3d">14</text>
<text x="73.2" y="614.6" font-size="18.2" text-anchor="end" fill="#3d3d3d">15</text>
<text x="132.8" y="973.2" font-size="18.2" text-anchor="middle" fill="#3d3d3d" textLength="39.8" lengthAdjust="spacingAndGlyphs">5000</text>
<text x="258.3" y="973.2" font-size="18.2" text-anchor="middle" fill="#3d3d3d" textLength="50.4" lengthAdjust="spacingAndGlyphs">10000</text>
<text x="207.85" y="997.6" font-size="18.2" text-anchor="middle" fill="#3d3d3d" textLength="101" lengthAdjust="spacingAndGlyphs">Cycle Count</text>
<text x="41.3" y="780.6" font-size="18.2" text-anchor="middle" fill="#3d3d3d" transform="rotate(-90 41.3 780.6)" textLength="162.5" lengthAdjust="spacingAndGlyphs">Crack Length (mm)</text>
<text x="105.4" y="944.9" font-size="18.2" text-anchor="start" fill="#3d3d3d" transform="rotate(-90 105.4 944.9)" textLength="58.6" lengthAdjust="spacingAndGlyphs">Cycle 1</text>
<text font-size="17.2" fill="#3d3d3d" text-anchor="start" transform="translate(113.2 788.6) rotate(-90)"><tspan x="-0.7" textLength="32.6" lengthAdjust="spacingAndGlyphs">9.26</tspan><tspan x="36.9" dy="0.6" font-size="19.5" textLength="12.4" lengthAdjust="spacingAndGlyphs">×</tspan><tspan x="54.2" dy="-0.6" textLength="18.6" lengthAdjust="spacingAndGlyphs">10</tspan><tspan x="73.2" dy="-6.5" font-size="11.8" textLength="17.4" lengthAdjust="spacingAndGlyphs">−4</tspan><tspan x="97.2" dy="6.5" textLength="63.2" lengthAdjust="spacingAndGlyphs">mm/cyc</tspan></text>
<text font-size="17.2" fill="#3d3d3d" text-anchor="start" transform="translate(242.3 938.8) rotate(-90)"><tspan x="-0.7" textLength="32.6" lengthAdjust="spacingAndGlyphs">1.88</tspan><tspan x="36.9" dy="0.6" font-size="19.5" textLength="12.4" lengthAdjust="spacingAndGlyphs">×</tspan><tspan x="54.2" dy="-0.6" textLength="18.6" lengthAdjust="spacingAndGlyphs">10</tspan><tspan x="73.2" dy="-6.5" font-size="11.8" textLength="17.4" lengthAdjust="spacingAndGlyphs">−4</tspan><tspan x="97.2" dy="6.5" textLength="63.2" lengthAdjust="spacingAndGlyphs">mm/cyc</tspan></text>
<text font-size="17.2" fill="#3d3d3d" text-anchor="start" transform="translate(322.4 901.6) rotate(-90)"><tspan x="-0.7" textLength="32.6" lengthAdjust="spacingAndGlyphs">6.81</tspan><tspan x="36.9" dy="0.6" font-size="19.5" textLength="12.4" lengthAdjust="spacingAndGlyphs">×</tspan><tspan x="54.2" dy="-0.6" textLength="18.6" lengthAdjust="spacingAndGlyphs">10</tspan><tspan x="73.2" dy="-6.5" font-size="11.8" textLength="17.4" lengthAdjust="spacingAndGlyphs">−4</tspan><tspan x="97.2" dy="6.5" textLength="63.2" lengthAdjust="spacingAndGlyphs">mm/cyc</tspan></text>
<text x="0.8" y="631.2" font-size="23.5" text-anchor="start" fill="#0a0a0a" textLength="18.6" lengthAdjust="spacingAndGlyphs" stroke="#0a0a0a" stroke-width="0.45">c)</text>
<rect x="427.8" y="608.1" width="89.2" height="345" fill="#e6e6e6"/>
<rect x="554.7" y="608.1" width="90.1" height="345" fill="#e6e6e6"/>
<path d="M486.6 609.1V953.1" stroke="#111" stroke-width="2.1" stroke-dasharray="2.1 3.4" fill="none"/>
<path d="M636.6 609.1V953.1" stroke="#111" stroke-width="2.1" stroke-dasharray="2.1 3.4" fill="none"/>
<path d="M427.8 864.2h0M428.6 863.44h0M429.4 861.95h0M430.2 860.78h0M431 859.52h0M431.8 858.09h0M432.6 856.92h0M433.4 855.4h0M434.2 854.27h0M435 853.38h0M435.8 852.05h0M436.6 851.25h0M437.4 849.7h0M438.2 848.51h0M439 847.2h0M439.8 846.15h0M440.6 844.6h0M441.4 843.95h0M442.2 842.58h0M443 841.08h0M443.8 839.12h0M444.6 837.95h0M445.4 836.78h0M446.2 835.59h0M447 834.89h0M447.8 833.64h0M448.6 832.42h0M449.4 831.57h0M450.2 830.43h0M451 828.94h0M451.8 827.25h0M452.6 825.54h0M453.4 824.43h0M454.2 822.89h0M455 822.05h0M455.8 821.21h0M456.6 819.83h0M457.4 818.59h0M458.2 817.15h0M459 816.08h0M459.8 814.73h0M460.6 813.68h0M461.4 813h0M462.2 811.43h0M463 810.22h0M463.8 808.58h0M464.6 806.75h0M465.4 805.6h0M466.2 804.29h0M467 803.29h0M467.8 801.94h0M468.6 801.19h0M469.4 800.07h0M470.2 798.65h0M471 797.59h0M471.8 795.49h0M472.6 794.46h0M473.4 792.81h0M474.2 791.72h0M475 790.91h0M475.8 790.16h0M476.6 788.95h0M477.4 786.85h0M478.2 785.76h0M479 784.55h0M479.8 783.7h0M480.6 782.26h0M481.4 781.36h0M482.2 780.22h0M483 779.4h0M483.8 777.9h0M484.6 777.23h0M485.4 775.73h0M486.2 773.78h0M487 774.84h0M487.8 774.98h0M488.6 774.74h0M489.4 775.78h0M490.2 773.85h0M491 773.92h0M491.8 772.56h0M492.6 772.32h0M493.4 772.33h0M494.2 772.29h0M495 772.4h0M495.8 771.74h0M496.6 771.91h0M497.4 769.96h0M498.2 771.97h0M499 770.97h0M499.8 771.62h0M500.6 771.17h0M501.4 771.27h0M502.2 769.36h0M503 768.59h0M503.8 769.59h0M504.6 768.32h0M505.4 768.46h0M506.2 768.04h0M507 768.14h0M507.8 768.34h0M508.6 768.72h0M509.4 768.54h0M510.2 768.27h0M511 767.14h0M511.8 767.65h0M512.6 766.79h0M513.4 766.77h0M514.2 765.35h0M515 765.21h0M515.8 765h0M516.6 764.16h0M517.4 763.65h0M518.2 765.29h0M519 766.85h0M519.8 765.25h0M520.6 763.87h0M521.4 762.65h0M522.2 762.84h0M523 763.62h0M523.8 763.15h0M524.6 763.44h0M525.4 762.73h0M526.2 761.27h0M527 760.39h0M527.8 759.54h0M528.6 760.8h0M529.4 761.62h0M530.2 763.55h0M531 762.41h0M531.8 759.95h0M532.6 760.61h0M533.4 758.33h0M534.2 758.73h0M535 759.89h0M535.8 759.51h0M536.6 759.53h0M537.4 759.27h0M538.2 759.02h0M539 759.57h0M539.8 757.46h0M540.6 756.33h0M541.4 755.84h0M542.2 755.27h0M543 756.87h0M543.8 758.34h0M544.6 757.85h0M545.4 756.14h0M546.2 754.87h0M547 753.85h0M547.8 753.81h0M548.6 756.1h0M549.4 756.76h0M550.2 757.33h0M551 756.4h0M551.8 753.71h0M552.6 752.65h0M553.4 752.46h0M554.2 751.92h0M555 751.91h0M555.8 753.23h0M556.6 753.73h0M557.4 753.54h0M558.2 753.19h0M559 753.03h0M559.8 752.07h0M560.6 751.52h0M561.4 751.03h0M562.2 750.92h0M563 751.58h0M563.8 749.99h0M564.6 749.49h0M565.4 748.97h0M566.2 748.17h0M567 748.29h0M567.8 748.46h0M568.6 749.67h0M569.4 749.92h0M570.2 749.67h0M571 748.3h0M571.8 748.05h0M572.6 748.12h0M573.4 746.39h0M574.2 747.03h0M575 746.88h0M575.8 745.76h0M576.6 745.85h0M577.4 746.87h0M578.2 744.98h0M579 745.73h0M579.8 744.56h0M580.6 745.51h0M581.4 745.79h0M582.2 744.98h0M583 743.89h0M583.8 744.14h0M584.6 743.21h0M585.4 743.01h0M586.2 742.66h0M587 743.36h0M587.8 744.01h0M588.6 743.06h0M589.4 742.03h0M590.2 742.38h0M591 740.72h0M591.8 741.95h0M592.6 741.54h0M593.4 741.8h0M594.2 739.42h0M595 740.07h0M595.8 738.52h0M596.6 738.56h0M597.4 739.98h0M598.2 740.71h0M599 739.45h0M599.8 739.12h0M600.6 738.06h0M601.4 738.12h0M602.2 737.41h0M603 737.2h0M603.8 736.72h0M604.6 737.14h0M605.4 737.17h0M606.2 736.47h0M607 736.24h0M607.8 737.54h0M608.6 736.33h0M609.4 735.33h0M610.2 734.81h0M611 736.31h0M611.8 736.74h0M612.6 736.17h0M613.4 734.63h0M614.2 733.06h0M615 731.1h0M615.8 732.56h0M616.6 732.53h0M617.4 734.52h0M618.2 735.45h0M619 734.78h0M619.8 732.74h0M620.6 731.33h0M621.4 731.61h0M622.2 731.09h0M623 732.69h0M623.8 731.28h0M624.6 731.36h0M625.4 729.39h0M626.2 729.33h0M627 729.23h0M627.8 729.71h0M628.6 729.05h0M629.4 728.34h0M630.2 729.66h0M631 729.03h0M631.8 729.25h0M632.6 729.09h0M633.4 728.38h0M634.2 726.82h0M635 726.19h0M635.8 726.17h0M636.6 725.99h0M637.4 726.13h0M638.2 725.01h0M639 722.75h0M639.8 721.81h0M640.6 720.37h0M641.4 719.06h0M642.2 717.47h0M643 717.17h0M643.8 715.91h0M644.6 714.23h0M645.4 713.28h0M646.2 713.41h0M647 712.4h0M647.8 711.27h0M648.6 710.33h0M649.4 709.54h0M650.2 708.91h0M651 708.81h0M651.8 707.7h0M652.6 706.55h0M653.4 706.05h0M654.2 704.67h0M655 703.04h0M655.8 703.08h0M656.6 702.41h0M657.4 702.14h0M658.2 701.36h0M659 700.64h0M659.8 699.23h0M660.6 697.93h0M661.4 696.01h0M662.2 695.19h0M663 693.75h0M663.8 692.76h0M664.6 691.42h0M665.4 690.9h0M666.2 689.6h0M667 688.17h0M667.8 686.87h0M668.6 685.44h0M669.4 684.6h0M670.2 683.21h0M671 682.58h0M671.8 680.91h0M672.6 679.47h0M673.4 677.52h0M674.2 675.78h0M675 674.71h0M675.8 672.86h0M676.6 672.69h0M677.4 671.21h0M678.2 669.97h0M679 668.69h0M679.8 667.54h0M680.6 665.82h0M681.4 664.49h0M682.2 663.47h0" stroke="#000" stroke-width="4.8" stroke-linecap="round" fill="none" clip-path="url(#cf)"/>
<path d="M428.1 864 L458.4 817.1 L471.5 796.3 L481.2 781.4 L486.3 775 L636.3 727.2 L647.4 712.4 L659.1 699.6 L668.1 686.8 L682.4 662.6" stroke="#8c8c8c" stroke-width="1.3" fill="none" stroke-linejoin="round" clip-path="url(#cf)"/>
<path d="M456.7 783.4L456.7 815.5M460 809.9L456.7 815.5L453.4 809.9" stroke="#787878" stroke-width="1.0" fill="none"/>
<path d="M568.4 790.2L562.2 757.2M559.99 763.31L562.2 757.2L566.48 762.09" stroke="#787878" stroke-width="1.0" fill="none"/>
<path d="M658.6 764.1L658.6 703M655.3 708.6L658.6 703L661.9 708.6" stroke="#787878" stroke-width="1.0" fill="none"/>
<path d="M497.3 608.1v6.4 M497.3 953.1v-6.4 M622.2 608.1v6.4 M622.2 953.1v-6.4 M447.34 608.1v3.3 M447.34 953.1v-3.3 M472.32 608.1v3.3 M472.32 953.1v-3.3 M522.28 608.1v3.3 M522.28 953.1v-3.3 M547.26 608.1v3.3 M547.26 953.1v-3.3 M572.24 608.1v3.3 M572.24 953.1v-3.3 M597.22 608.1v3.3 M597.22 953.1v-3.3 M647.18 608.1v3.3 M647.18 953.1v-3.3 M672.16 608.1v3.3 M672.16 953.1v-3.3" stroke="#1f1f1f" stroke-width="1.25" fill="none"/>
<path d="M427.8 909.98h6.4 M682.4 909.98h-6.4 M427.8 866.85h6.4 M682.4 866.85h-6.4 M427.8 823.73h6.4 M682.4 823.73h-6.4 M427.8 780.6h6.4 M682.4 780.6h-6.4 M427.8 737.48h6.4 M682.4 737.48h-6.4 M427.8 694.35h6.4 M682.4 694.35h-6.4 M427.8 651.23h6.4 M682.4 651.23h-6.4 M427.8 944.48h3.3 M682.4 944.48h-3.3 M427.8 935.85h3.3 M682.4 935.85h-3.3 M427.8 927.23h3.3 M682.4 927.23h-3.3 M427.8 918.6h3.3 M682.4 918.6h-3.3 M427.8 901.35h3.3 M682.4 901.35h-3.3 M427.8 892.73h3.3 M682.4 892.73h-3.3 M427.8 884.1h3.3 M682.4 884.1h-3.3 M427.8 875.48h3.3 M682.4 875.48h-3.3 M427.8 858.23h3.3 M682.4 858.23h-3.3 M427.8 849.6h3.3 M682.4 849.6h-3.3 M427.8 840.98h3.3 M682.4 840.98h-3.3 M427.8 832.35h3.3 M682.4 832.35h-3.3 M427.8 815.1h3.3 M682.4 815.1h-3.3 M427.8 806.48h3.3 M682.4 806.48h-3.3 M427.8 797.85h3.3 M682.4 797.85h-3.3 M427.8 789.23h3.3 M682.4 789.23h-3.3 M427.8 771.98h3.3 M682.4 771.98h-3.3 M427.8 763.35h3.3 M682.4 763.35h-3.3 M427.8 754.73h3.3 M682.4 754.73h-3.3 M427.8 746.1h3.3 M682.4 746.1h-3.3 M427.8 728.85h3.3 M682.4 728.85h-3.3 M427.8 720.23h3.3 M682.4 720.23h-3.3 M427.8 711.6h3.3 M682.4 711.6h-3.3 M427.8 702.98h3.3 M682.4 702.98h-3.3 M427.8 685.73h3.3 M682.4 685.73h-3.3 M427.8 677.1h3.3 M682.4 677.1h-3.3 M427.8 668.48h3.3 M682.4 668.48h-3.3 M427.8 659.85h3.3 M682.4 659.85h-3.3 M427.8 642.6h3.3 M682.4 642.6h-3.3 M427.8 633.98h3.3 M682.4 633.98h-3.3 M427.8 625.35h3.3 M682.4 625.35h-3.3 M427.8 616.73h3.3 M682.4 616.73h-3.3" stroke="#1f1f1f" stroke-width="1.25" fill="none"/>
<rect x="427.8" y="608.1" width="254.6" height="345" fill="none" stroke="#1f1f1f" stroke-width="1.55"/>
<text x="420.4" y="959.6" font-size="18.2" text-anchor="end" fill="#3d3d3d">7</text>
<text x="420.4" y="916.48" font-size="18.2" text-anchor="end" fill="#3d3d3d">8</text>
<text x="420.4" y="873.35" font-size="18.2" text-anchor="end" fill="#3d3d3d">9</text>
<text x="420.4" y="830.23" font-size="18.2" text-anchor="end" fill="#3d3d3d">10</text>
<text x="420.4" y="787.1" font-size="18.2" text-anchor="end" fill="#3d3d3d">11</text>
<text x="420.4" y="743.98" font-size="18.2" text-anchor="end" fill="#3d3d3d">12</text>
<text x="420.4" y="700.85" font-size="18.2" text-anchor="end" fill="#3d3d3d">13</text>
<text x="420.4" y="657.73" font-size="18.2" text-anchor="end" fill="#3d3d3d">14</text>
<text x="420.4" y="614.6" font-size="18.2" text-anchor="end" fill="#3d3d3d">15</text>
<text x="496.5" y="973.2" font-size="18.2" text-anchor="middle" fill="#3d3d3d" textLength="39.8" lengthAdjust="spacingAndGlyphs">5000</text>
<text x="621.4" y="973.2" font-size="18.2" text-anchor="middle" fill="#3d3d3d" textLength="50.4" lengthAdjust="spacingAndGlyphs">10000</text>
<text x="554.4" y="997.6" font-size="18.2" text-anchor="middle" fill="#3d3d3d" textLength="101" lengthAdjust="spacingAndGlyphs">Cycle Count</text>
<text x="388.5" y="780.6" font-size="18.2" text-anchor="middle" fill="#3d3d3d" transform="rotate(-90 388.5 780.6)" textLength="162.5" lengthAdjust="spacingAndGlyphs">Crack Length (mm)</text>
<text x="451.2" y="944.9" font-size="18.2" text-anchor="start" fill="#3d3d3d" transform="rotate(-90 451.2 944.9)" textLength="58.6" lengthAdjust="spacingAndGlyphs">Cycle 1</text>
<text font-size="17.2" fill="#3d3d3d" text-anchor="start" transform="translate(462.3 773.8) rotate(-90)"><tspan x="-0.7" textLength="32.6" lengthAdjust="spacingAndGlyphs">8.85</tspan><tspan x="36.9" dy="0.6" font-size="19.5" textLength="12.4" lengthAdjust="spacingAndGlyphs">×</tspan><tspan x="54.2" dy="-0.6" textLength="18.6" lengthAdjust="spacingAndGlyphs">10</tspan><tspan x="73.2" dy="-6.5" font-size="11.8" textLength="17.4" lengthAdjust="spacingAndGlyphs">−4</tspan><tspan x="97.2" dy="6.5" textLength="63.2" lengthAdjust="spacingAndGlyphs">mm/cyc</tspan></text>
<text font-size="17.2" fill="#3d3d3d" text-anchor="start" transform="translate(588.2 946.4) rotate(-90)"><tspan x="-0.7" textLength="32.6" lengthAdjust="spacingAndGlyphs">1.84</tspan><tspan x="36.9" dy="0.6" font-size="19.5" textLength="12.4" lengthAdjust="spacingAndGlyphs">×</tspan><tspan x="54.2" dy="-0.6" textLength="18.6" lengthAdjust="spacingAndGlyphs">10</tspan><tspan x="73.2" dy="-6.5" font-size="11.8" textLength="17.4" lengthAdjust="spacingAndGlyphs">−4</tspan><tspan x="97.2" dy="6.5" textLength="63.2" lengthAdjust="spacingAndGlyphs">mm/cyc</tspan></text>
<text font-size="17.2" fill="#3d3d3d" text-anchor="start" transform="translate(665.2 933) rotate(-90)"><tspan x="-0.7" textLength="32.6" lengthAdjust="spacingAndGlyphs">7.93</tspan><tspan x="36.9" dy="0.6" font-size="19.5" textLength="12.4" lengthAdjust="spacingAndGlyphs">×</tspan><tspan x="54.2" dy="-0.6" textLength="18.6" lengthAdjust="spacingAndGlyphs">10</tspan><tspan x="73.2" dy="-6.5" font-size="11.8" textLength="17.4" lengthAdjust="spacingAndGlyphs">−4</tspan><tspan x="97.2" dy="6.5" textLength="63.2" lengthAdjust="spacingAndGlyphs">mm/cyc</tspan></text>
<text x="367.6" y="631.2" font-size="23.5" text-anchor="start" fill="#0a0a0a" textLength="16.4" lengthAdjust="spacingAndGlyphs" stroke="#0a0a0a" stroke-width="0.45">f)</text>
</svg></body></html>
